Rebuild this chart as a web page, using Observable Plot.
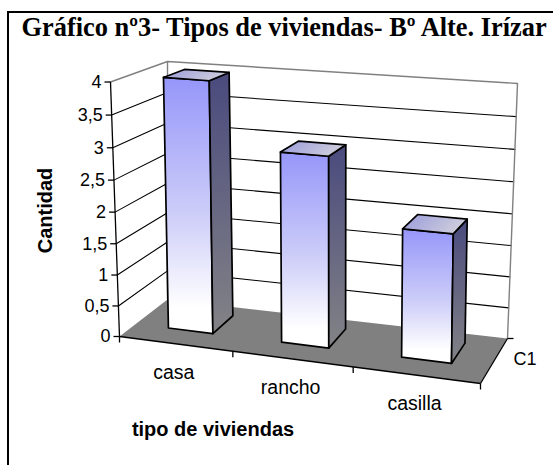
<!DOCTYPE html>
<html><head><meta charset="utf-8">
<script src="https://cdn.jsdelivr.net/npm/d3@7"></script>
<script src="https://cdn.jsdelivr.net/npm/@observablehq/plot@0.6"></script>
<style>
html,body{margin:0;padding:0;background:#fff;}
#wrap{position:relative;width:553px;height:465px;overflow:hidden;background:#fff;}
#wrap svg{position:absolute;left:0;top:0;}
#frame{position:absolute;left:7px;top:11px;width:600px;height:500px;border-left:2px solid #000;border-top:2px solid #000;pointer-events:none;}
</style></head><body><div id="wrap"><div id="frame"></div></div>
<script>
// ---- data ----
const title = "Gráfico nº3- Tipos de viviendas- Bº Alte. Irízar";
const categories = ["casa", "rancho", "casilla"];
const values = [4, 3, 2];
const seriesName = "C1";
const yTicks = [0, 0.5, 1, 1.5, 2, 2.5, 3, 3.5, 4];
const yTickLabels = ["0", "0,5", "1", "1,5", "2", "2,5", "3", "3,5", "4"];
const xTitle = "tipo de viviendas";
const yTitle = "Cantidad";

// ---- 3D layout (perspective box) ----
const yMax = 4;
const nCat = categories.length;
const BOX = {
  FBL: [119, 336], FBR: [480, 383], BBL: [167, 299], BBR: [507, 338],
  FTL: [110, 81.5], FTR: [482, 110], BTL: [167, 61], BTR: [517, 83]
};
const BAR = {u0: 0.3, u1: 0.7, w0: 0.34, w1Bottom: 0.80, w1Top: 0.72};
function lerp(a, b, t) { return [a[0] + (b[0] - a[0]) * t, a[1] + (b[1] - a[1]) * t]; }
function P(u, v, w) {
  let s = u / nCat; s = s - 0.087 * s * (1 - s);
  let t = v / yMax; t = t - 0.045 * t * (1 - t);
  const bot = lerp(lerp(BOX.FBL, BOX.FBR, s), lerp(BOX.BBL, BOX.BBR, s), w);
  const tp = lerp(lerp(BOX.FTL, BOX.FTR, s), lerp(BOX.BTL, BOX.BTR, s), w);
  return lerp(bot, tp, t);
}
const pt = (id, p) => ({id, x: p[0], y: p[1]});

// floor
const floorPts = [P(0,0,0), P(nCat,0,0), P(nCat,0,1), P(0,0,1), P(0,0,0)].map(p => pt("floor", p));

// bars
const frontFaces = [], sideFaces = [], topFaces = [];
categories.forEach((c, i) => {
  const v = values[i];
  const u0 = i + BAR.u0, u1 = i + BAR.u1, w0 = BAR.w0;
  const w1b = BAR.w1Bottom, w1v = BAR.w1Bottom + (BAR.w1Top - BAR.w1Bottom) * v / yMax;
  [P(u0,0,w0), P(u1,0,w0), P(u1,v,w0), P(u0,v,w0), P(u0,0,w0)].forEach(p => frontFaces.push(pt(c, p)));
  [P(u1,0,w0), P(u1,0,w1b), P(u1,v,w1v), P(u1,v,w0), P(u1,0,w0)].forEach(p => sideFaces.push(pt(c, p)));
  [P(u0,v,w0), P(u1,v,w0), P(u1,v,w1v), P(u0,v,w1v), P(u0,v,w0)].forEach(p => topFaces.push(pt(c, p)));
});

// gridlines on left and back walls
const grid = [];
yTicks.filter(v => v > 0).forEach(v => {
  [P(0,v,0), P(0,v,1), P(nCat,v,1)].forEach(p => grid.push({...pt(v, p), v}));
});
const wallEdges = [
  {a: P(0,0,1), b: P(0,yMax,1)},
  {a: P(nCat,0,1), b: P(nCat,yMax,1)}
];
const axisLines = [
  {a: P(0,0,0), b: P(0,yMax,0)},
  {a: P(0,0,0), b: P(nCat,0,0)},
  {a: P(nCat,0,0), b: P(nCat,0,1)}
];
const yTickData = yTicks.map((v, i) => ({p: P(0, v, 0), label: yTickLabels[i]}));
const xTickData = d3.range(nCat + 1).map(u => ({p: P(u, 0, 0)}));
const catLabels = categories.map((c, i) => ({p: P(i + 0.5, 0, 0), label: c}));
const seriesLabel = [{p: P(nCat, 0, 0.5), label: seriesName}];
const depthTick = [{p: P(nCat, 0, 1)}];

const sans = "Liberation Sans, Arial, sans-serif";

const svg = Plot.plot({
  width: 553, height: 465, margin: 0,
  x: {type: "linear", domain: [0, 553], range: [0, 553], axis: null},
  y: {type: "linear", domain: [0, 465], range: [0, 465], axis: null},
  marks: [
    Plot.line(floorPts, {x: "x", y: "y", z: "id", fill: "#808080", stroke: "none"}),
    Plot.line(grid.filter(d => d.v < yMax), {x: "x", y: "y", z: "id", stroke: "#000", strokeWidth: 1.1}),
    Plot.line(grid.filter(d => d.v === yMax), {x: "x", y: "y", z: "id", stroke: "#808080", strokeWidth: 1.4}),
    Plot.link(wallEdges, {x1: d => d.a[0], y1: d => d.a[1], x2: d => d.b[0], y2: d => d.b[1], stroke: "#808080", strokeWidth: 1.4}),
    Plot.link(axisLines, {x1: d => d.a[0], y1: d => d.a[1], x2: d => d.b[0], y2: d => d.b[1], stroke: "#000", strokeWidth: 1.3}),
    Plot.link(yTickData, {x1: d => d.p[0], y1: d => d.p[1], x2: d => d.p[0] - 6, y2: d => d.p[1], stroke: "#000", strokeWidth: 1.3}),
    Plot.link(xTickData, {x1: d => d.p[0], y1: d => d.p[1], x2: d => d.p[0], y2: d => d.p[1] + 6, stroke: "#000", strokeWidth: 1.3}),
    Plot.link(depthTick, {x1: d => d.p[0], y1: d => d.p[1], x2: d => d.p[0] + 6, y2: d => d.p[1], stroke: "#000", strokeWidth: 1.3}),
    Plot.line(frontFaces, {x: "x", y: "y", z: "id", fill: "url(#gFront)", stroke: "#000", strokeWidth: 1.7, strokeLinejoin: "round"}),
    Plot.line(sideFaces, {x: "x", y: "y", z: "id", fill: "url(#gSide)", stroke: "#000", strokeWidth: 1.7, strokeLinejoin: "round"}),
    Plot.line(topFaces, {x: "x", y: "y", z: "id", fill: "url(#gTop)", stroke: "#000", strokeWidth: 1.7, strokeLinejoin: "round"}),
    Plot.text(yTickData, {x: d => d.p[0], y: d => d.p[1], text: "label", textAnchor: "end", dx: -9, fontSize: 18, fontFamily: sans, fill: "#000"}),
    Plot.text(catLabels, {x: d => d.p[0], y: d => d.p[1], text: "label", dx: -1.5, dy: 29, fontSize: 19.5, fontFamily: sans, fill: "#000"}),
    Plot.text(seriesLabel, {x: d => d.p[0], y: d => d.p[1], text: "label", textAnchor: "start", dx: 19.5, dy: -1.3, fontSize: 18, fontFamily: sans, fill: "#000"}),
    Plot.text([xTitle], {x: () => 212.5, y: () => 428.6, text: d => d, fontSize: 20, fontWeight: "bold", fontFamily: sans, fill: "#000"}),
    Plot.text([yTitle], {x: () => 45.5, y: () => 210, text: d => d, rotate: -90, fontSize: 20, fontWeight: "bold", fontFamily: sans, fill: "#000"}),
    Plot.text([title], {x: () => 21, y: () => 27.2, text: d => d, textAnchor: "start", fontSize: 26.4, fontWeight: "bold", fontFamily: "Liberation Serif, Times New Roman, serif", fill: "#000"})
  ]
});

const defs = d3.select(svg).insert("defs", ":first-child");
function grad(id, x2, y2, stops) {
  const g = defs.append("linearGradient").attr("id", id)
    .attr("x1", 0).attr("y1", 0).attr("x2", x2).attr("y2", y2);
  stops.forEach(([o, c]) => g.append("stop").attr("offset", o).attr("stop-color", c));
}
grad("gFront", 0, 1, [[0, "#9696fa"], [0.55, "#cfcff9"], [0.9, "#ffffff"], [1, "#ffffff"]]);
grad("gSide", 0, 1, [[0, "#4a4a7e"], [1, "#838386"]]);
grad("gTop", 1, 0.3, [[0, "#9a9adc"], [1, "#cdcddc"]]);

document.getElementById("wrap").insertBefore(svg, document.getElementById("frame"));
</script></body></html>
